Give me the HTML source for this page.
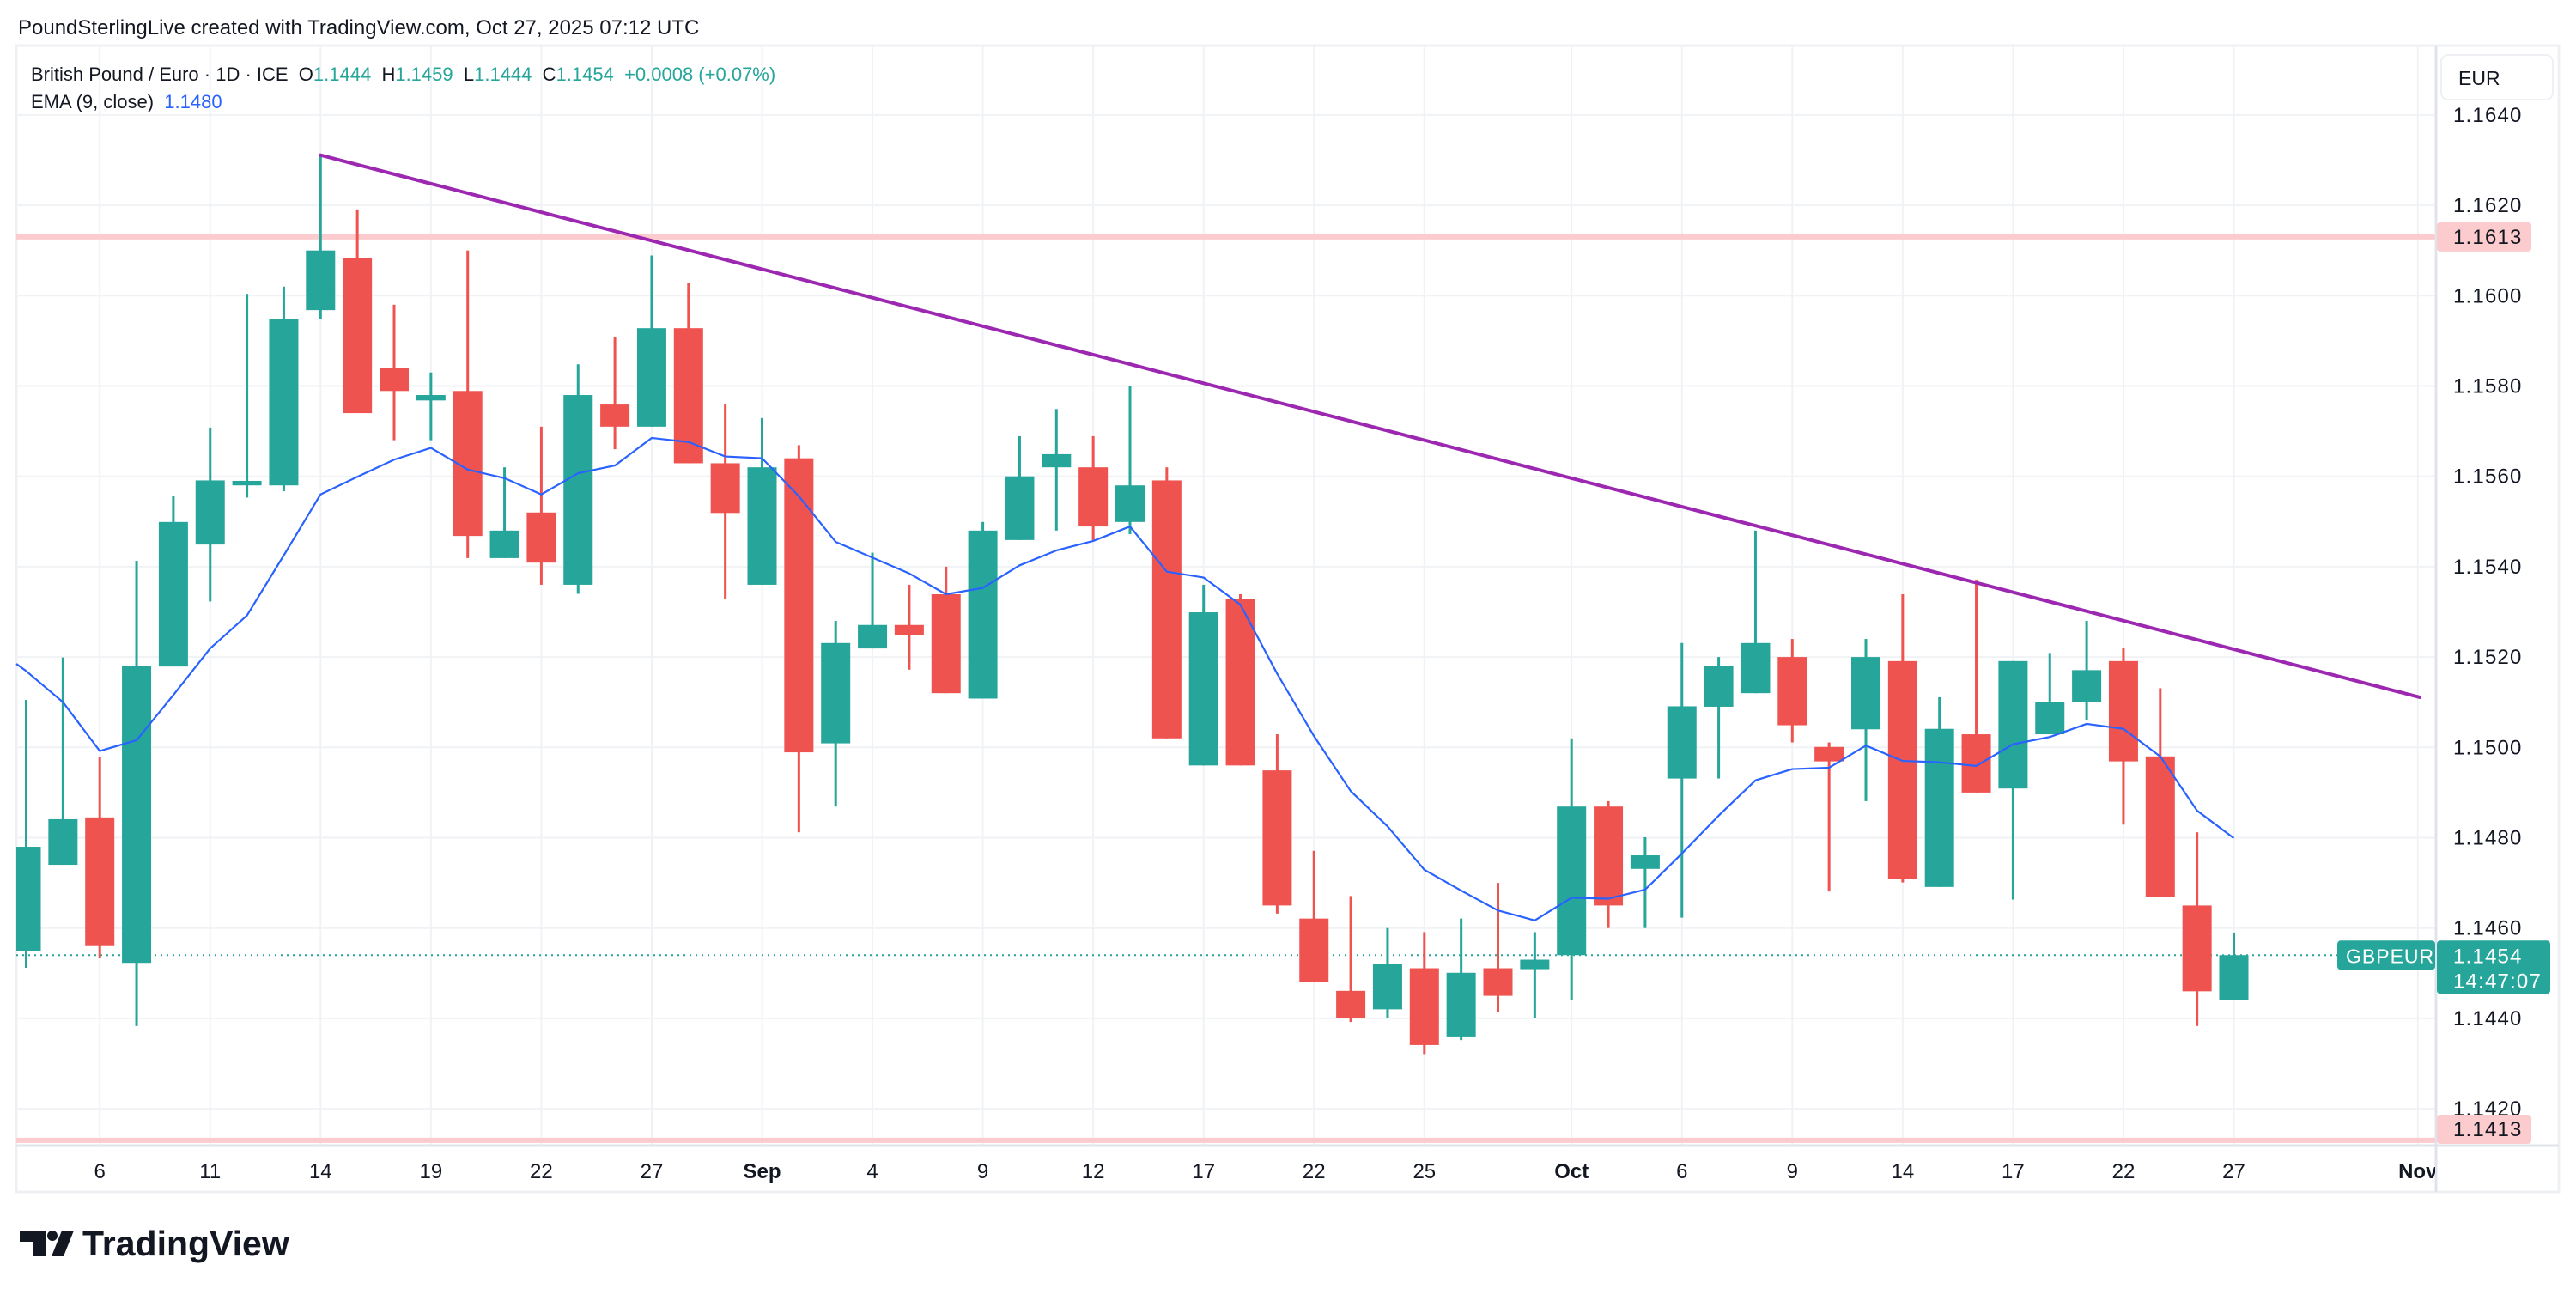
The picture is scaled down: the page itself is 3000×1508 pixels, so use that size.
<!DOCTYPE html>
<html><head><meta charset="utf-8">
<style>
html,body{margin:0;padding:0;background:#fff;}
svg{display:block;font-family:"Liberation Sans",sans-serif;}
</style></head>
<body>
<svg id="chart" width="3000" height="1508" viewBox="0 0 3000 1508" xmlns="http://www.w3.org/2000/svg">
  <rect x="0" y="0" width="3000" height="1508" fill="#ffffff"/>
  <text x="21" y="40" font-size="24" fill="#131722">PoundSterlingLive created with TradingView.com, Oct 27, 2025 07:12 UTC</text>
  <rect x="19" y="53" width="2961" height="1335" fill="none" stroke="#eef0f4" stroke-width="3"/>
  <g id="grid"></g>
  <g id="levels"></g>
  <g id="candles"></g>
  <g id="ema"></g>
  <g id="trend"></g>
  <line x1="19" y1="1334" x2="2980" y2="1334" stroke="#e0e3eb" stroke-width="3"/>
  <line x1="2837" y1="53" x2="2837" y2="1388" stroke="#e0e3eb" stroke-width="3"/>
  <g id="yaxis"></g>
  <g id="xaxis"></g>
  <g font-size="22">
    <text x="36" y="94" fill="#131722" xml:space="preserve">British Pound / Euro · 1D · ICE  <tspan fill="#131722">O</tspan><tspan fill="#26a69a">1.1444</tspan>  <tspan fill="#131722">H</tspan><tspan fill="#26a69a">1.1459</tspan>  <tspan fill="#131722">L</tspan><tspan fill="#26a69a">1.1444</tspan>  <tspan fill="#131722">C</tspan><tspan fill="#26a69a">1.1454</tspan>  <tspan fill="#26a69a">+0.0008 (+0.07%)</tspan></text>
    <text x="36" y="126" fill="#131722" xml:space="preserve">EMA (9, close)  <tspan fill="#2962ff">1.1480</tspan></text>
  </g>
  <g>
    <rect x="2843" y="64" width="130" height="52" rx="8" fill="#fff" stroke="#eef0f4" stroke-width="2"/>
    <text x="2863" y="99" font-size="23" fill="#131722">EUR</text>
  </g>
  <g>
    <path d="M23 1433 H53 V1463 H38 V1446 H23 Z" fill="#131722"/>
    <circle cx="61" cy="1439" r="6" fill="#131722"/>
    <path d="M72 1433 H86 L74 1463 H60 Z" fill="#131722"/>
    <text x="96" y="1462" font-size="41" font-weight="bold" fill="#131722">TradingView</text>
  </g>
</svg>
<script>
const opens  = [1.1455,1.1474,1.14845,1.14523,1.15179,1.15449,1.1558,1.1558,1.15968,1.16083,1.15839,1.15768,1.15789,1.15419,1.1552,1.1536,1.15759,1.1571,1.15928,1.15629,1.1536,1.1564,1.15009,1.15219,1.15271,1.15339,1.15108,1.15459,1.1562,1.1562,1.15499,1.15591,1.1496,1.15329,1.14949,1.14621,1.14461,1.1442,1.14511,1.1436,1.14511,1.14509,1.1454,1.14869,1.14731,1.14931,1.1509,1.1512,1.152,1.15001,1.1504,1.15191,1.14691,1.15029,1.14909,1.15029,1.151,1.15191,1.1498,1.1465,1.1444];
const highs  = [1.15105,1.15199,1.14979,1.15413,1.15556,1.15708,1.16004,1.1602,1.16311,1.16191,1.1598,1.1583,1.161,1.1562,1.1571,1.15848,1.15909,1.16089,1.16029,1.15759,1.15729,1.15669,1.1528,1.15431,1.1536,1.154,1.15499,1.15689,1.15749,1.15689,1.15799,1.1562,1.1536,1.15339,1.15029,1.14771,1.14671,1.146,1.14591,1.14621,1.147,1.14591,1.1502,1.14881,1.14801,1.15231,1.152,1.1548,1.1524,1.15011,1.1524,1.15339,1.15111,1.15371,1.15191,1.15209,1.1528,1.1522,1.15131,1.14812,1.1459];
const lows   = [1.14512,1.1474,1.14533,1.14383,1.1518,1.15323,1.15553,1.15567,1.15949,1.1574,1.1568,1.1568,1.15419,1.15419,1.1536,1.1534,1.1566,1.1571,1.15629,1.15329,1.1536,1.14812,1.14869,1.15219,1.15172,1.1512,1.15108,1.15459,1.1548,1.15459,1.15472,1.1502,1.1496,1.1496,1.14632,1.1448,1.14392,1.144,1.14321,1.14352,1.14413,1.14401,1.14441,1.146,1.146,1.14623,1.14931,1.1512,1.15011,1.14681,1.14881,1.14701,1.14691,1.149,1.14663,1.15029,1.1506,1.14829,1.14669,1.14383,1.1444];
const closes = [1.1478,1.14841,1.1456,1.1518,1.15499,1.15591,1.1559,1.15949,1.161,1.1574,1.15789,1.1578,1.15468,1.1548,1.15409,1.1578,1.1571,1.15928,1.15629,1.15519,1.1562,1.14989,1.15231,1.15271,1.15249,1.1512,1.1548,1.156,1.15649,1.15489,1.1558,1.1502,1.15299,1.1496,1.1465,1.1448,1.144,1.1452,1.14341,1.14501,1.1445,1.1453,1.14869,1.1465,1.14761,1.15091,1.1518,1.15231,1.15049,1.14969,1.152,1.14709,1.15041,1.149,1.15191,1.151,1.15171,1.14969,1.14669,1.1446,1.1454];
const emaValues = [1.15169,1.1510,1.14992,1.15016,1.15116,1.15219,1.15292,1.15425,1.1556,1.15599,1.15637,1.15663,1.15615,1.15596,1.1556,1.15607,1.15624,1.15685,1.15676,1.15644,1.1564,1.15556,1.15455,1.1542,1.15385,1.15339,1.15353,1.15403,1.15436,1.15457,1.15489,1.15389,1.15376,1.15316,1.15163,1.15025,1.14903,1.14825,1.14729,1.14683,1.14639,1.14617,1.14667,1.14665,1.14685,1.14765,1.14849,1.14927,1.14952,1.14955,1.15004,1.1497,1.14967,1.14959,1.15007,1.15023,1.15052,1.15041,1.1498,1.1486,1.14799];
const emaStart = 1.15185;
const priceTicks = [1.1640,1.1620,1.1600,1.1580,1.1560,1.1540,1.1520,1.1500,1.1480,1.1460,1.1440,1.1420];
const timeLabels = ["6","11","14","19","22","27","Sep","4","9","12","17","22","25","Oct","6","9","14","17","22","27","Nov"];
const timeLabelIdx = [2,5,8,11,14,17,20,23,26,29,32,35,38,42,45,48,51,54,57,60,65];
const levelPrices = [1.1613,1.1413];
const trendIdx = [8,65.05];
const trendPrice = [1.16311,1.15111];
const lastPrice = 1.1454;

const NS="http://www.w3.org/2000/svg";
const PL=19, PR=2836, PT=53, PB=1333;
function x(i){return 30.5+i*42.85;}
function y(p){return 239.1+(1.1620-p)*52600;}
function mk(tag,attrs,parent){const e=document.createElementNS(NS,tag);for(const k in attrs)e.setAttribute(k,attrs[k]);parent.appendChild(e);return e;}
const G=id=>document.getElementById(id);

const grid=G('grid');
priceTicks.forEach(p=>{
  const l=mk('line',{x1:PL,x2:PR,y1:y(p),y2:y(p),stroke:'#f0f2f5','stroke-width':2},grid);
  
  
});
timeLabelIdx.forEach(i=>{
  const l=mk('line',{x1:x(i),x2:x(i),y1:PT,y2:PB,stroke:'#f0f2f5','stroke-width':2},grid);
  
  
});

const lv=G('levels');
levelPrices.forEach(p=>{
  const l=mk('line',{x1:PL,x2:PR,y1:y(p),y2:y(p),stroke:'#fccbcd','stroke-width':6},lv);
  
  
});
const dl=mk('line',{x1:PL,x2:2722,y1:y(lastPrice),y2:y(lastPrice),stroke:'#26a69a','stroke-width':2,'stroke-dasharray':'2 5'},lv);



const cg=G('candles');
const clip=mk('clipPath',{id:'pc'},cg);
mk('rect',{x:PL,y:PT,width:PR-PL,height:PB-PT},clip);
cg.setAttribute('clip-path','url(#pc)');
opens.forEach((o,i)=>{
  const c=closes[i], up=c>=o, col=up?'#26a69a':'#ef5350';
  const g=mk('g',{},cg);
  
  
  mk('rect',{x:x(i)-1.5,y:y(highs[i]),width:3,height:Math.max(1,y(lows[i])-y(highs[i])),fill:col},g);
  const top=y(Math.max(o,c)), bot=y(Math.min(o,c));
  mk('rect',{x:x(i)-17,y:top,width:34,height:Math.max(3,bot-top),fill:col},g);
});

const eg=G('ema');
const ep=mk('polyline',{points:PL+','+y(emaStart)+' '+emaValues.map((v,i)=>x(i)+','+y(v)).join(' '),fill:'none',stroke:'#2962ff','stroke-width':2.2,'stroke-linejoin':'round'},eg);



const tl=mk('line',{x1:x(trendIdx[0]),y1:y(trendPrice[0]),x2:x(trendIdx[1]),y2:y(trendPrice[1]),stroke:'#9c27b0','stroke-width':4,'stroke-linecap':'round'},G('trend'));



const ya=G('yaxis');
priceTicks.forEach(p=>{
  const t=mk('text',{x:2857,y:y(p)+8,'font-size':24,fill:'#131722','letter-spacing':'1.2'},ya);
  t.textContent=p.toFixed(4);
  
  
});
levelPrices.forEach(p=>{
  const yy=y(p);
  const top=Math.min(yy-17,PB-35);
  const r=mk('rect',{x:2838,y:top,width:110,height:Math.min(34,PB-top),rx:4,fill:'#fccbcd'},ya);
  
  
  const t=mk('text',{x:2857,y:top+25,'font-size':24,fill:'#131722','letter-spacing':'1.2'},ya);
  t.textContent=p.toFixed(4);
  
  
});
const ly=y(lastPrice);
const sb=mk('rect',{x:2722,y:ly-17,width:114,height:34,rx:4,fill:'#26a69a'},ya);


const st=mk('text',{x:2732,y:ly+9,'font-size':23,fill:'#ffffff','letter-spacing':'1'},ya);
st.textContent='GBPEUR';


const pb=mk('rect',{x:2838,y:ly-17,width:132,height:62,rx:4,fill:'#26a69a'},ya);


const pt=mk('text',{x:2857,y:ly+9,'font-size':24,fill:'#ffffff','letter-spacing':'1.2'},ya);
pt.textContent=lastPrice.toFixed(4);


const ct=mk('text',{x:2857,y:ly+38,'font-size':24,fill:'#ffffff','letter-spacing':'1.2'},ya);
ct.textContent='14:47:07';



const xa=G('xaxis');
const xc=mk('clipPath',{id:'xc'},xa);
mk('rect',{x:PL,y:PB,width:PR-PL,height:60},xc);
timeLabels.forEach((s,k)=>{
  const bold=(s==='Sep'||s==='Oct'||s==='Nov');
  const t=mk('text',{x:x(timeLabelIdx[k]),y:1372,'font-size':24,fill:'#131722','text-anchor':'middle','font-weight':bold?'bold':'normal','clip-path':'url(#xc)'},xa);
  t.textContent=s;
  
  
});
</script>
</body></html>
